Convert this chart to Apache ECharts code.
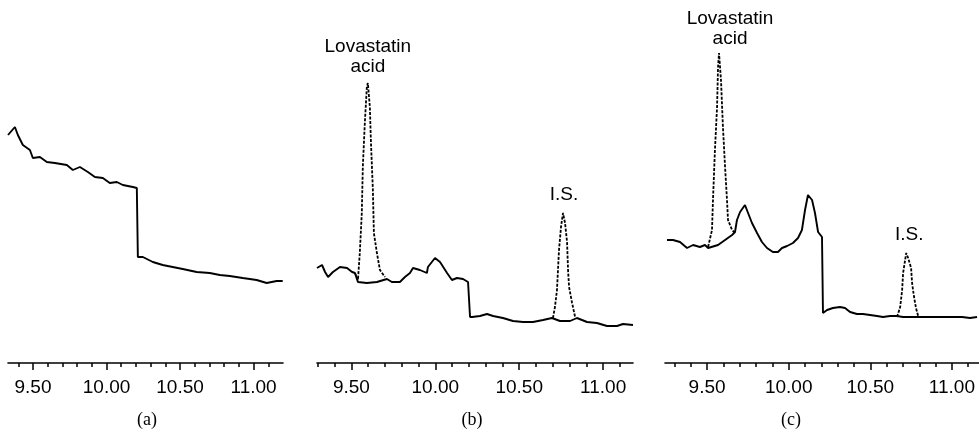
<!DOCTYPE html>
<html><head><meta charset="utf-8">
<script src="https://cdn.jsdelivr.net/npm/echarts@6/dist/echarts.min.js"></script>
<style>html,body{margin:0;padding:0;background:#fff}#c{width:979px;height:435px}</style>
</head><body><div id="c"></div>
<script>
// Tick labels (retention time, min)
const tickLabels = [9.5, 10.0, 10.5, 11.0];
const minorTicks = [9.3, 9.4, 9.6, 9.7, 9.8, 9.9, 10.1, 10.2, 10.3, 10.4, 10.6, 10.7, 10.8, 10.9, 11.1];
const panelCaptions = ['(a)', '(b)', '(c)'];
const peakName = 'Lovastatin\nacid';
const isName = 'I.S.';

// Panel (a): blank
const aTime = [9.330, 9.377, 9.397, 9.431, 9.479, 9.499, 9.547, 9.594, 9.649, 9.730, 9.771, 9.819, 9.873, 9.921, 9.975, 10.022, 10.070, 10.111, 10.179, 10.206, 10.213, 10.247, 10.315, 10.382, 10.450, 10.518, 10.613, 10.702, 10.770, 10.838, 10.926, 11.021, 11.089, 11.157, 11.198];
const aSignal = [228, 236, 228, 218, 213, 205, 206, 201, 200, 198, 193, 196, 191, 186, 185, 180, 181, 178, 176, 175, 106, 106, 101, 98, 96, 94, 91, 90, 88, 87, 85, 83, 80, 82, 82];

// Panel (b): baseline trace
const bTime = [9.295, 9.325, 9.343, 9.361, 9.390, 9.432, 9.474, 9.504, 9.521, 9.539, 9.592, 9.652, 9.712, 9.741, 9.789, 9.819, 9.849, 9.867, 9.908, 9.950, 9.956, 9.998, 10.028, 10.070, 10.099, 10.129, 10.165, 10.195, 10.201, 10.207, 10.219, 10.266, 10.308, 10.344, 10.403, 10.463, 10.523, 10.582, 10.642, 10.695, 10.743, 10.803, 10.844, 10.904, 10.963, 11.023, 11.083, 11.118, 11.178];
const bSignal = [95, 98, 91, 86, 91, 96, 95, 91, 90, 81, 80, 81, 84, 81, 81, 86, 90, 95, 93, 90, 96, 105, 101, 90, 83, 85, 84, 81, 81, 46, 46, 47, 49, 47, 45, 42, 41, 41, 43, 45, 42, 42, 45, 41, 40, 37, 37, 39, 38];
// Panel (b): lovastatin acid peak
const bPeakTime = [9.521, 9.539, 9.550, 9.562, 9.568, 9.580, 9.592, 9.598, 9.610, 9.616, 9.628, 9.634, 9.652, 9.670, 9.700];
const bPeakSignal = [90, 83, 110, 150, 196, 240, 276, 280, 256, 223, 173, 130, 110, 93, 86];
// Panel (b): internal standard peak
const bIsTime = [10.701, 10.713, 10.725, 10.731, 10.737, 10.749, 10.761, 10.773, 10.785, 10.791, 10.797, 10.815, 10.833];
const bIsSignal = [45, 56, 73, 93, 113, 136, 150, 140, 121, 93, 76, 60, 46];

// Panel (c): baseline trace
const cTime = [9.254, 9.291, 9.334, 9.377, 9.414, 9.456, 9.487, 9.506, 9.518, 9.567, 9.610, 9.653, 9.671, 9.683, 9.702, 9.732, 9.751, 9.775, 9.806, 9.836, 9.867, 9.903, 9.934, 9.959, 9.990, 10.026, 10.057, 10.081, 10.100, 10.118, 10.143, 10.161, 10.180, 10.204, 10.210, 10.235, 10.271, 10.314, 10.345, 10.376, 10.418, 10.455, 10.498, 10.541, 10.578, 10.621, 10.664, 10.700, 10.743, 10.786, 10.835, 10.884, 10.945, 11.007, 11.062, 11.111, 11.154];
const cSignal = [123, 123, 121, 115, 118, 116, 118, 115, 114, 118, 123, 128, 131, 143, 151, 158, 150, 140, 130, 121, 115, 111, 111, 115, 117, 120, 125, 133, 153, 168, 163, 150, 131, 126, 50, 53, 55, 56, 55, 51, 49, 49, 48, 47, 46, 47, 47, 46, 46, 46, 46, 46, 46, 46, 46, 45, 46];
// Panel (c): lovastatin acid peak
const cPeakTime = [9.506, 9.530, 9.536, 9.548, 9.561, 9.567, 9.573, 9.585, 9.597, 9.610, 9.622, 9.628, 9.653, 9.671];
const cPeakSignal = [116, 133, 163, 213, 256, 296, 310, 283, 236, 196, 163, 143, 133, 130];
// Panel (c): internal standard peak
const cIsTime = [10.664, 10.683, 10.695, 10.701, 10.720, 10.732, 10.750, 10.756, 10.768, 10.780, 10.793];
const cIsSignal = [46, 56, 73, 90, 110, 105, 95, 80, 66, 55, 47];

const zip = (t, s) => t.map((v, i) => [v, s[i]]);

const grids = [
  {left: 8, width: 275, top: 0, height: 363, min: 9.33, max: 11.2},
  {left: 317, width: 316, top: 0, height: 363, min: 9.295, max: 11.178},
  {left: 665, width: 314, top: 0, height: 363, min: 9.242, max: 11.166}
];
const FONT = '"Liberation Sans", Arial, sans-serif';

const xAxes = [], yAxes = [];
grids.forEach((g, i) => {
  xAxes.push({
    type: 'value', gridIndex: i, position: 'bottom', min: g.min, max: g.max,
    axisLine: {show: true, onZero: false, lineStyle: {color: '#000', width: 1.6}},
    axisTick: {show: true, customValues: tickLabels, length: 7, lineStyle: {color: '#000', width: 1.5}},
    axisLabel: {show: true, customValues: tickLabels, margin: 15, color: '#000', fontSize: 19, fontFamily: FONT,
      formatter: v => v.toFixed(2)},
    splitLine: {show: false}
  });
  xAxes.push({
    type: 'value', gridIndex: i, position: 'bottom', min: g.min, max: g.max,
    axisLine: {show: false},
    axisTick: {show: true, customValues: minorTicks, length: 4, lineStyle: {color: '#000', width: 1.5}},
    axisLabel: {show: false},
    splitLine: {show: false}
  });
  yAxes.push({type: 'value', gridIndex: i, min: 0, max: 363, show: false, splitLine: {show: false}});
});

function line(data, gi, dashed, mark) {
  const s = {
    type: 'line', xAxisIndex: gi * 2, yAxisIndex: gi, data: data,
    showSymbol: false, symbol: 'none', silent: true, animation: false,
    lineStyle: {color: '#000', width: dashed ? 1.8 : 1.9, type: dashed ? [3, 1.5] : 'solid'}
  };
  if (mark) {
    s.markPoint = {
      symbol: 'circle', symbolSize: 1, itemStyle: {color: 'rgba(0,0,0,0)'}, animation: false,
      data: [{coord: mark.coord, value: 0,
        label: {show: true, position: 'top', distance: mark.dist, offset: mark.offset || [0, 0],
          formatter: mark.text, color: '#000', fontSize: 19, lineHeight: 20, fontFamily: FONT}}]
    };
  }
  return s;
}

const bPk = zip(bPeakTime, bPeakSignal), cPk = zip(cPeakTime, cPeakSignal);
const bIs = zip(bIsTime, bIsSignal), cIs = zip(cIsTime, cIsSignal);
const maxPt = arr => arr.reduce((a, b) => (b[1] > a[1] ? b : a));

const series = [
  line(zip(aTime, aSignal), 0, false),
  line(zip(bTime, bSignal), 1, false),
  line(bPk, 1, true, {coord: maxPt(bPk), text: peakName, dist: 6}),
  line(bIs, 1, true, {coord: maxPt(bIs), text: isName, dist: 8, offset: [1, 0]}),
  line(zip(cTime, cSignal), 2, false),
  line(cPk, 2, true, {coord: maxPt(cPk), text: peakName, dist: 4, offset: [11, 0]}),
  line(cIs, 2, true, {coord: maxPt(cIs), text: isName, dist: 8, offset: [3, 0]})
];

const captionX = [147, 472, 791];
const graphic = panelCaptions.map((t, i) => ({
  type: 'text', x: captionX[i], y: 420,
  style: {text: t, fill: '#000', font: '18px "Liberation Serif", "Times New Roman", serif', align: 'center', verticalAlign: 'middle'}
}));

const chart = echarts.init(document.getElementById('c'), null, {renderer: 'canvas'});
chart.setOption({
  animation: false,
  backgroundColor: '#fff',
  grid: grids.map(g => ({left: g.left, width: g.width, top: g.top, height: g.height, containLabel: false, outerBoundsMode: 'none'})),
  xAxis: xAxes,
  yAxis: yAxes,
  series: series,
  graphic: graphic
});
</script></body></html>
